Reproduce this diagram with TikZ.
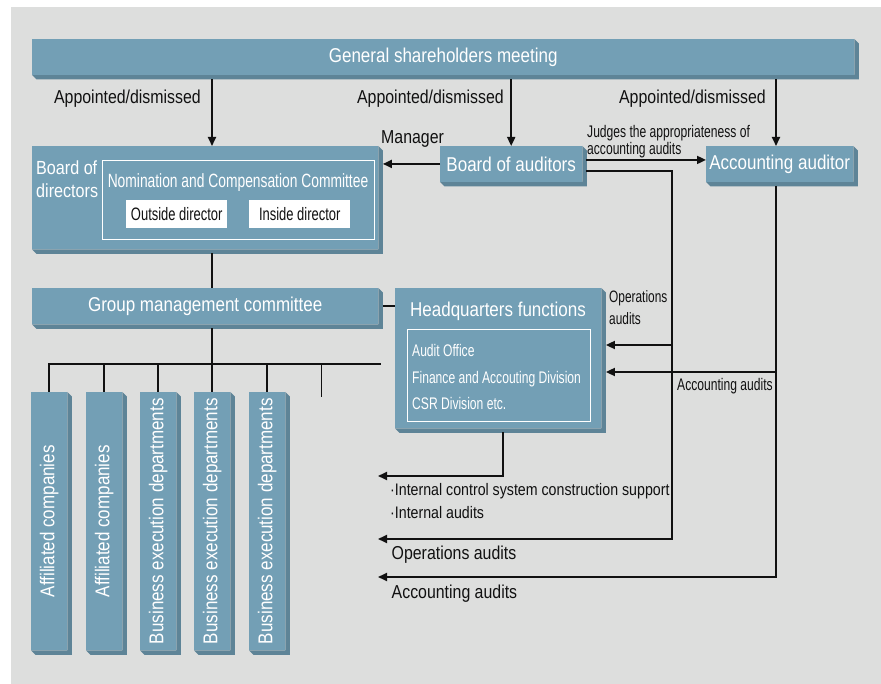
\documentclass[tikz,border=0pt]{standalone}
\usepackage{fontspec}
\setmainfont{Liberation Sans}[FakeStretch=0.85]
\newfontfamily\narrowfont{Liberation Sans}[FakeStretch=0.72]
\usetikzlibrary{arrows.meta, calc}

\definecolor{boxblue}{HTML}{739FB5}
\definecolor{boxdark}{HTML}{5E8497}
\definecolor{bggray}{HTML}{DDDEDD}
\definecolor{ink}{HTML}{111111}

\newcommand{\titlesize}{\fontsize{20}{23}\selectfont}
\newcommand{\labelsize}{\fontsize{18.7}{22.3}\selectfont}
\newcommand{\notesize}{\fontsize{16.7}{23}\selectfont}
\newcommand{\narrowsize}{\narrowfont\fontsize{16.8}{17}\selectfont}

\tikzset{
  bevel/.style={append after command={\pgfextra{\pgfinterruptpath
      \fill[boxdark] (\tikzlastnode.north east) -- ++(4.5pt,-4.5pt)
        |- ([shift={(4.5pt,-4.5pt)}]\tikzlastnode.south west)
        -- (\tikzlastnode.south west) -- (\tikzlastnode.south east) -- cycle;
      \endpgfinterruptpath}}},
  orgbox/.style={bevel, fill=boxblue, text=white, inner sep=0pt,
    anchor=north west, font=\titlesize},
  framebox/.style={draw=white, line width=1.2pt, inner sep=0pt, anchor=north west},
  namebox/.style={fill=white, text=ink, inner sep=0pt, anchor=north west,
    minimum width=101pt, minimum height=28pt, font=\narrowfont\fontsize{18}{20}\selectfont},
  line/.style={draw=ink, line width=1.8pt},
  arr/.style={line, -{Triangle[length=9pt,width=8pt]}},
  lbl/.style={text=ink, inner sep=0pt, font=\labelsize},
}

\begin{document}
\begin{tikzpicture}[x=1pt, y=-1pt]
  \useasboundingbox (0,0) rectangle (881,684);
  \fill[bggray] (11,7) rectangle (881,684);

  % top level
  \node[orgbox, minimum width=822pt, minimum height=35.5pt] (gsm) at (32,39) {General shareholders meeting};
  \node[orgbox, minimum width=346pt, minimum height=103pt] (bod) at (32,146) {};
  \node[anchor=north west, align=left, inner sep=0pt, text=white, font=\fontsize{19}{23}\selectfont] (bodlbl) at (36,160.5) {Board of\\directors};
  \node[framebox, minimum width=272pt, minimum height=79pt] (ncc) at (102,160) {};
  \node[anchor=base, inner sep=0pt, text=white, font=\narrowfont\fontsize{19.2}{21}\selectfont] (ncclbl) at (238,187.5) {Nomination and Compensation Committee};
  \node[namebox] (outdir) at (126,200) {Outside director};
  \node[namebox] (indir) at (249,200) {Inside director};
  \node[orgbox, minimum width=142pt, minimum height=35.5pt] (boa) at (440,146) {Board of auditors};
  \node[orgbox, minimum width=147pt, minimum height=35.5pt] (accaud) at (706,146) {Accounting auditor};

  % middle level
  \node[orgbox, minimum width=346pt, minimum height=36pt] (gmc) at (32,288) {Group management committee};
  \node[orgbox, minimum width=206pt, minimum height=140pt] (hq) at (395,288) {};
  \node[anchor=base, inner sep=0pt, text=white, font=\titlesize] (hqlbl) at (498,316.7) {Headquarters functions};
  \node[framebox, minimum width=183pt, minimum height=92pt] (hqunits) at (407,329) {};
  \node[anchor=north west, align=left, inner sep=0pt, text=white, font=\narrowfont\fontsize{16.8}{26.6}\selectfont] (hqlist) at (412,344.4) {Audit Office\\Finance and Accouting Division\\CSR Division etc.};

  % bottom level
  \node[orgbox, minimum width=36pt, minimum height=258pt] (aff1) at (31,392) {\rotatebox{90}{Affiliated companies}};
  \node[orgbox, minimum width=36pt, minimum height=258pt] (aff2) at (86,392) {\rotatebox{90}{Affiliated companies}};
  \node[orgbox, minimum width=36pt, minimum height=258pt] (bed1) at (140,392) {\rotatebox{90}{Business execution departments}};
  \node[orgbox, minimum width=36pt, minimum height=258pt] (bed2) at (194,392) {\rotatebox{90}{Business execution departments}};
  \node[orgbox, minimum width=36pt, minimum height=258pt] (bed3) at (249,392) {\rotatebox{90}{Business execution departments}};

  % junctions and free ends
  \coordinate (trunk) at (212,364);
  \coordinate (treeend) at (381,364);
  \coordinate (stub) at (321.5,397);
  \coordinate (opstap) at (672,345);
  \coordinate (opsturn) at (672,539);
  \coordinate (opsend) at (378,539);
  \coordinate (acctap) at (776,372);
  \coordinate (accend) at (378,577);
  \coordinate (hqend) at (378,476);

  % appointments
  \draw[arr, shorten <=4pt] (gsm.south -| trunk) -- (bod.north -| trunk);
  \draw[arr, shorten <=4pt] (gsm.south -| boa.north) -- (boa.north);
  \draw[arr, shorten <=4pt] (gsm.south -| acctap) -- (accaud.north -| acctap);
  \node[lbl, anchor=base east] (app1) at (201,103.5) {Appointed/dismissed};
  \node[lbl, anchor=base east] (app2) at (504,103.5) {Appointed/dismissed};
  \node[lbl, anchor=base east] (app3) at (766,103.5) {Appointed/dismissed};

  % auditors
  \draw[arr, shorten >=4.5pt] (boa.west) -- (boa.west -| bod.east);
  \node[lbl, anchor=base west] (mgr) at (381,143.5) {Manager};
  \draw[arr, shorten <=4pt] ([yshift=4pt]boa.east) -- ([yshift=4pt]boa.east -| accaud.west);
  \node[anchor=north west, align=left, inner sep=0pt, text=ink, font=\narrowsize] (judge) at (587,124.7) {Judges the appropriateness of\\accounting audits};

  % operations audits
  \draw[arr, shorten <=4pt] ([yshift=-7pt]boa.east) -| (opsturn) -- (opsend);
  \draw[arr, shorten >=4.5pt] (opstap) -- (opstap -| hq.east);
  \node[anchor=north west, align=left, inner sep=0pt, text=ink, font=\narrowfont\fontsize{16.5}{22.3}\selectfont] (opslbl) at (609,290.5) {Operations\\audits};

  % accounting audits
  \draw[arr, shorten <=4pt] (accaud.south -| acctap) |- (accend);
  \draw[arr, shorten >=4.5pt] (acctap) -- (acctap -| hq.east);
  \node[anchor=base west, inner sep=0pt, text=ink, font=\narrowsize] (acclbl) at (677,390.7) {Accounting audits};

  % headquarters support
  \draw[arr, shorten <=4pt] ([xshift=5pt]hq.south) |- (hqend);
  \node[anchor=north west, align=left, inner sep=0pt, text=ink, font=\notesize] (support) at (390,482.8) {·Internal control system construction support\\·Internal audits};
  \node[lbl, anchor=base west] (opsout) at (391.5,559) {Operations audits};
  \node[lbl, anchor=base west] (accout) at (391.5,598.3) {Accounting audits};

  % group lines
  \draw[line, shorten <=4pt] (bod.south -| trunk) -- (gmc.north -| trunk);
  \draw[line, shorten <=4.5pt] (gmc.east) -- (gmc.east -| hq.west);
  \draw[line, shorten <=4pt] (gmc.south -| trunk) -- (trunk);
  \draw[line] (aff1.north) |- (treeend);
  \draw[line] (aff2.north |- trunk) -- (aff2.north);
  \draw[line] (bed1.north |- trunk) -- (bed1.north);
  \draw[line] (bed2.north |- trunk) -- (bed2.north);
  \draw[line] (bed3.north |- trunk) -- (bed3.north);
  \draw[line] (stub |- trunk) -- (stub);
\end{tikzpicture}
\end{document}
